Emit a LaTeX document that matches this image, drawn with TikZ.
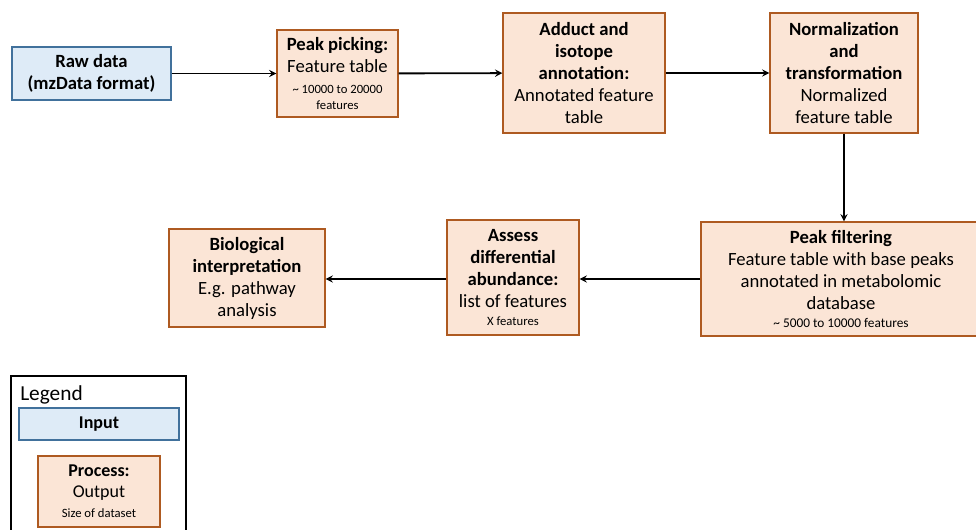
\documentclass[tikz,border=0pt]{standalone}
\usepackage{fontspec}
\setmainfont{Carlito}
\usepackage{xcolor}
\definecolor{inputfill}{RGB}{222,235,247}
\definecolor{inputline}{RGB}{65,113,156}
\definecolor{procfill}{RGB}{251,229,214}
\definecolor{procline}{RGB}{174,90,33}
\newcommand{\sizenote}[1]{{\fontsize{9.5}{12}\selectfont #1}}

\begin{document}
\begin{tikzpicture}[x=0.75pt,y=-0.75pt,>=stealth,font=\fontsize{14}{16.5}\selectfont]
  \tikzstyle{input}=[draw=inputline,fill=inputfill,line width=0.9pt,align=center,inner sep=2pt]
  \tikzstyle{process}=[draw=procline,fill=procfill,line width=0.9pt,align=center,inner sep=2pt]
  \tikzstyle{flow}=[->,line width=1.4pt]
  \useasboundingbox (0,0) rectangle (976,530);
  % top row
  \node[input,minimum width=119.25pt,minimum height=39.75pt] (raw) at (91.5,73.5)
    {\textbf{Raw data}\\\textbf{(mzData format)}};
  \node[process,minimum width=90.75pt,minimum height=65.25pt] (peak) at (337.5,73.5)
    {\textbf{Peak picking:}\\Feature table\\[-1pt]\sizenote{\textasciitilde{} 10000 to 20000}\\[-4.5pt]\sizenote{features}};
  \node[process,minimum width=121.5pt,minimum height=90pt] (adduct) at (584,73)
    {\textbf{Adduct and}\\\textbf{isotope}\\\textbf{annotation:}\\Annotated feature\\table};
  \node[process,minimum width=111pt,minimum height=90pt] (norm) at (844,73)
    {\textbf{Normalization}\\\textbf{and}\\\textbf{transformation}\\Normalized\\feature table};
  % bottom row
  \node[process,minimum width=210pt,minimum height=85.5pt] (filter) at (841,279)
    {\textbf{Peak filtering}\\Feature table with base peaks\\annotated in metabolomic\\database\\[-3pt]{\fontsize{10}{12}\selectfont \textasciitilde{} 5000 to 10000 features}};
  \node[process,minimum width=99pt,minimum height=86.25pt] (assess) at (513,277.5)
    {\textbf{Assess}\\\textbf{differential}\\\textbf{abundance:}\\list of features\\[-3pt]\sizenote{X features}};
  \node[process,minimum width=117pt,minimum height=73.5pt] (bio) at (247,278)
    {\textbf{Biological}\\\textbf{interpretation}\\E.g. pathway\\analysis};
  \path[flow]
  (raw) edge (peak)
  (peak) edge (adduct)
  (adduct) edge (norm);
  \draw[flow] (norm.south) -- (norm.south |- filter.north);
  \draw[flow] (filter.west |- 0,279) -- (assess.east |- 0,279);
  \draw[flow] (assess.west |- 0,279) -- (bio.east |- 0,279);
  % legend
  \node[draw,line width=0.8pt,minimum width=131.25pt,minimum height=120pt,inner sep=0pt] (legend) at (98.5,456) {};
  \node[anchor=west,inner sep=0pt,font=\fontsize{16}{18}\selectfont] (legendtitle) at (20,395) {Legend};
  \node[input,minimum width=120pt,minimum height=24pt,font=\fontsize{13.5}{16}\selectfont] (legin) at (99,424) {\textbf{Input}};
  \node[process,minimum width=91.5pt,minimum height=53.25pt,font=\fontsize{13.5}{16}\selectfont] (legproc) at (99,491.5)
    {\textbf{Process:}\\Output\\[-1pt]\sizenote{Size of dataset}};
\end{tikzpicture}
\end{document}
